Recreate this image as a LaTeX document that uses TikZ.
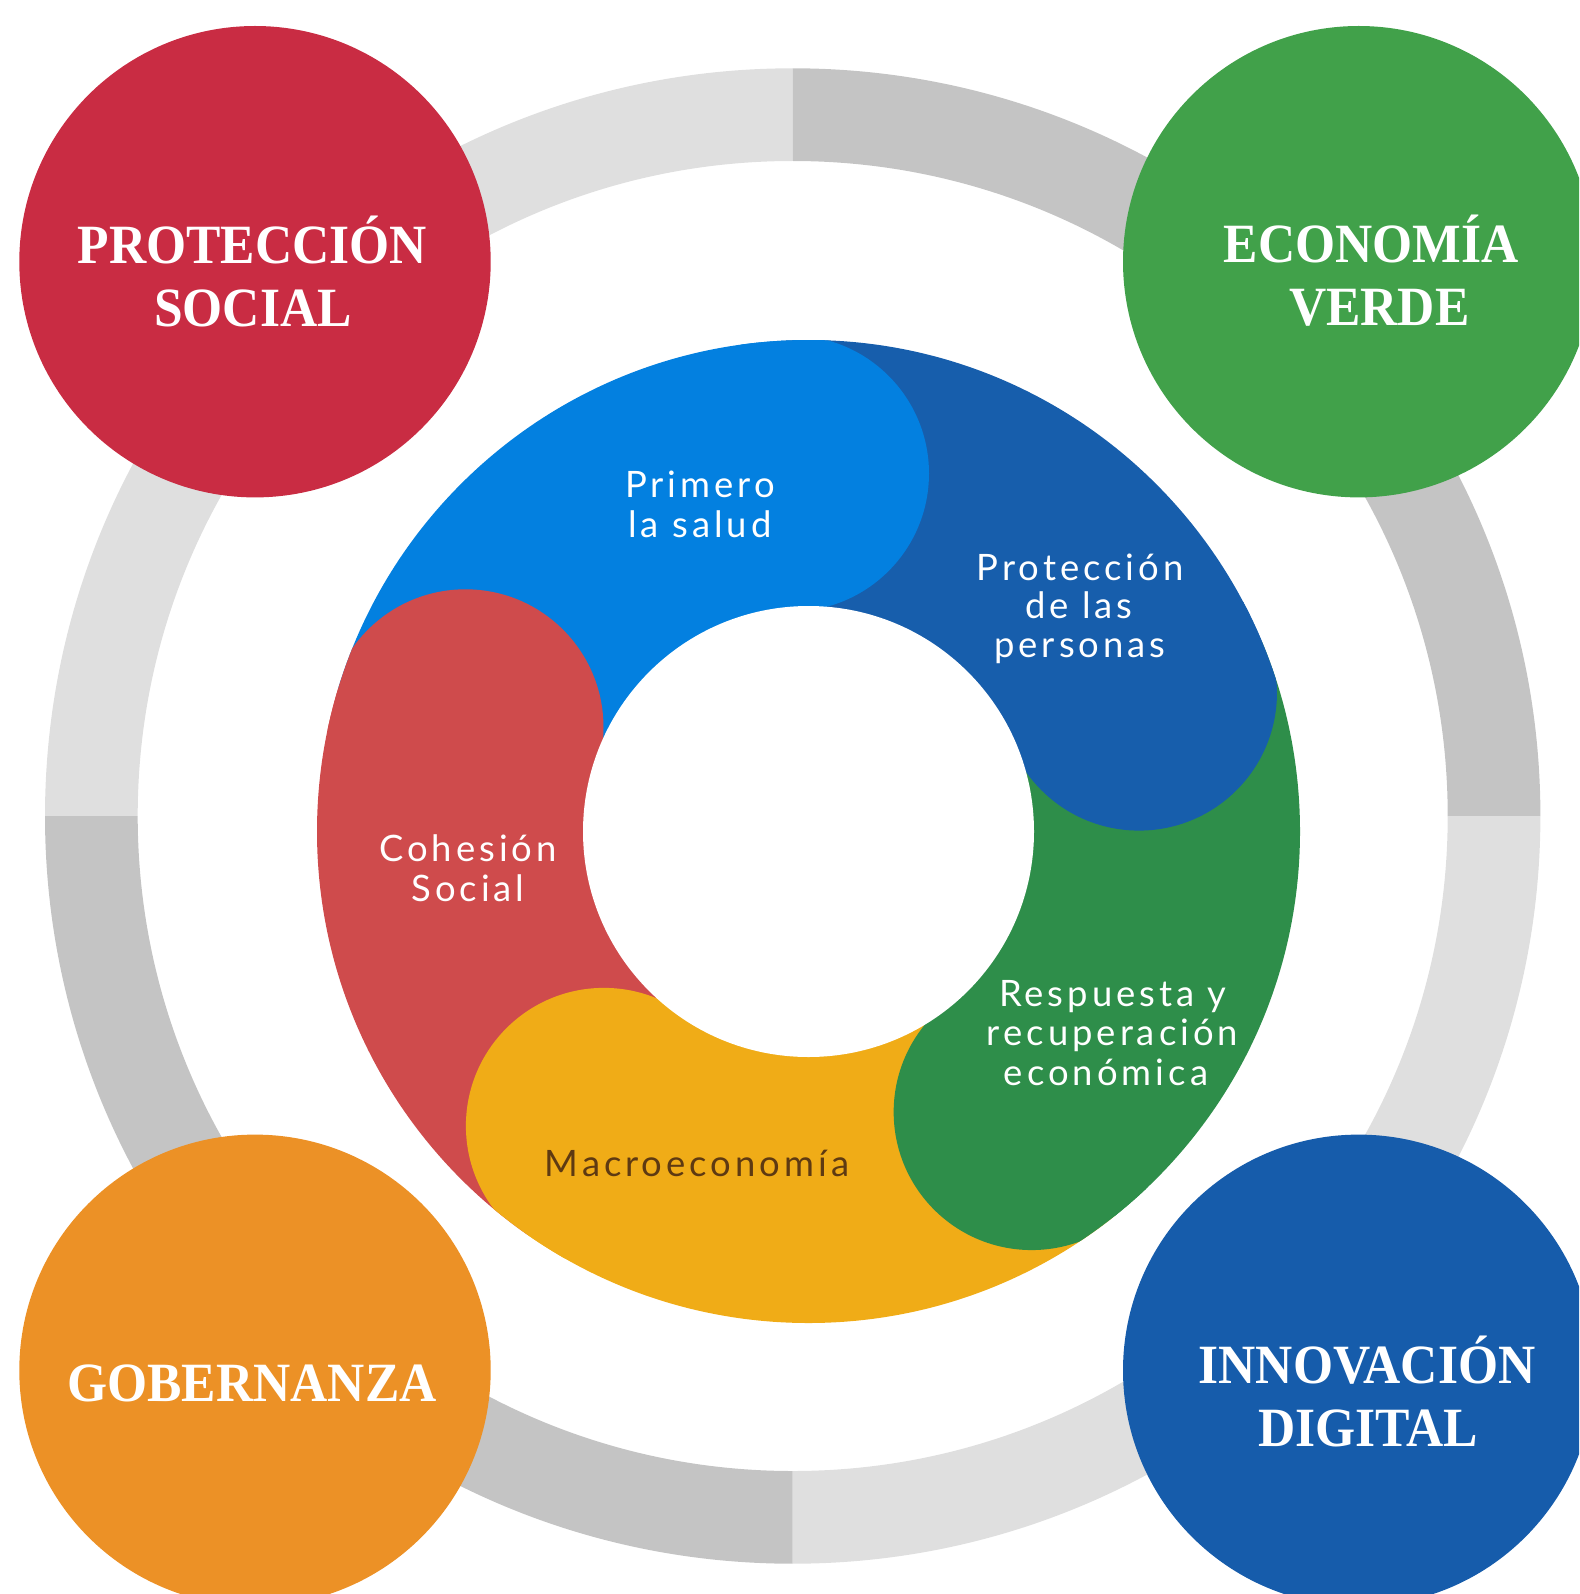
\documentclass[tikz,border=0pt]{standalone}
\usepackage{fontspec}
\usetikzlibrary{calc}
\newfontfamily\cornerfont{Liberation Serif}[FakeStretch=0.93]
\newfontfamily\innerfont{Lato}[LetterSpace=11]
\definecolor{ringL}{HTML}{DFDFDF}
\definecolor{ringD}{HTML}{C4C4C4}
\definecolor{cRed}{HTML}{C92C43}
\definecolor{cGreen}{HTML}{41A14A}
\definecolor{cBlue}{HTML}{165CAB}
\definecolor{cOrange}{HTML}{EC9126}
\definecolor{sLB}{HTML}{0380E0}
\definecolor{sDB}{HTML}{175EAC}
\definecolor{sGR}{HTML}{2E8E4A}
\definecolor{sYE}{HTML}{F0AC17}
\definecolor{sRE}{HTML}{CF4B4C}
\definecolor{brownT}{HTML}{5E3A12}
\tikzset{
  bigdisc/.style={circle, inner sep=0pt, minimum size=235.7pt},
  cornertxt/.style={font=\cornerfont\bfseries\fontsize{27.7pt}{30pt}\selectfont, text=white, anchor=base, inner sep=0pt},
  innertxt/.style={font=\innerfont\fontsize{18.2pt}{20pt}\selectfont, text=white, anchor=base, inner sep=0pt}
}
\begin{document}
\begin{tikzpicture}[x=0.5pt,y=-0.5pt]
\useasboundingbox (0,0) rectangle (1579,1594);
\clip (0,0) rectangle (1579,1594);
\coordinate (G) at (792.7,816);
\coordinate (D) at (808.5,831.5);
% outer grey ring
\foreach \a/\c in {180/ringL,270/ringD,0/ringL,90/ringD}{
  \fill[\c] ($(G)+(\a:747.7)$) arc[start angle=\a, delta angle=90, radius=747.7]
    -- ($(G)+(\a+90:655)$) arc[start angle=\a+90, delta angle=-90, radius=655] -- cycle;
}
% corner discs
\node[bigdisc, fill=cRed] (dps) at (255,261.7) {};
\node[bigdisc, fill=cGreen] (dev) at (1358.7,261.7) {};
\node[bigdisc, fill=cOrange] (dgo) at (255,1370.3) {};
\node[bigdisc, fill=cBlue] (did) at (1358.7,1370.3) {};
% donut
\begin{scope}
  \clip (D) circle (491.5);
  \fill[sRE] (D) -- ($(D)+(124.8:520)$) arc[start angle=124.8, end angle=196.9, radius=520] -- cycle;
  \fill[sLB] (D) -- ($(D)+(196.9:520)$) arc[start angle=196.9, end angle=267.2, radius=520] -- cycle;
  \fill[sDB] (D) -- ($(D)+(267.2:520)$) arc[start angle=267.2, end angle=337.2, radius=520] -- cycle;
  \fill[sGR] (D) -- ($(D)+(337.2:520)$) arc[start angle=337.2, end angle=411.5, radius=520] -- cycle;
  \fill[sYE] (D) -- ($(D)+(51.5:520)$) arc[start angle=51.5, end angle=124.8, radius=520] -- cycle;
  \fill[sLB] ($(D)+(267.2:358.5)$) circle (138);
  \fill[sDB] ($(D)+(337.2:358.5)$) circle (138);
  \fill[sGR] ($(D)+(51.5:358.5)$) circle (138);
  \fill[sYE] ($(D)+(124.8:358.5)$) circle (138);
  \fill[sRE] ($(D)+(196.9:358.5)$) circle (138);
\end{scope}
\fill[white] (D) circle (225.5);
% corner labels
\node[cornertxt] (t1a) at (252.2,263.3) {PROTECCIÓN};
\node[cornertxt] (t1b) at (253,326) {SOCIAL};
\node[cornertxt] (t2a) at (1371.2,262.7) {ECONOMÍA};
\node[cornertxt] (t2b) at (1379.2,325.7) {VERDE};
\node[cornertxt] (t3a) at (252,1401) {GOBERNANZA};
\node[cornertxt] (t4a) at (1367,1383) {INNOVACIÓN};
\node[cornertxt] (t4b) at (1368,1446) {DIGITAL};
% inner labels
\node[innertxt] (s1a) at (700,497.3) {Primero};
\node[innertxt] (s1b) at (700,537.3) {la salud};
\node[innertxt] (s2a) at (1080,580) {Protección};
\node[innertxt] (s2b) at (1079,618) {de las};
\node[innertxt] (s2c) at (1080,657.5) {personas};
\node[innertxt] (s3a) at (1112.8,1006.7) {Respuesta y};
\node[innertxt] (s3b) at (1112.5,1045) {recuperación};
\node[innertxt] (s3c) at (1106,1085) {económica};
\node[innertxt, text=brownT] (s4a) at (697,1176) {Macroeconomía};
\node[innertxt] (s5a) at (468,861.7) {Cohesión};
\node[innertxt] (s5b) at (468,901) {Social};
\end{tikzpicture}
\end{document}
